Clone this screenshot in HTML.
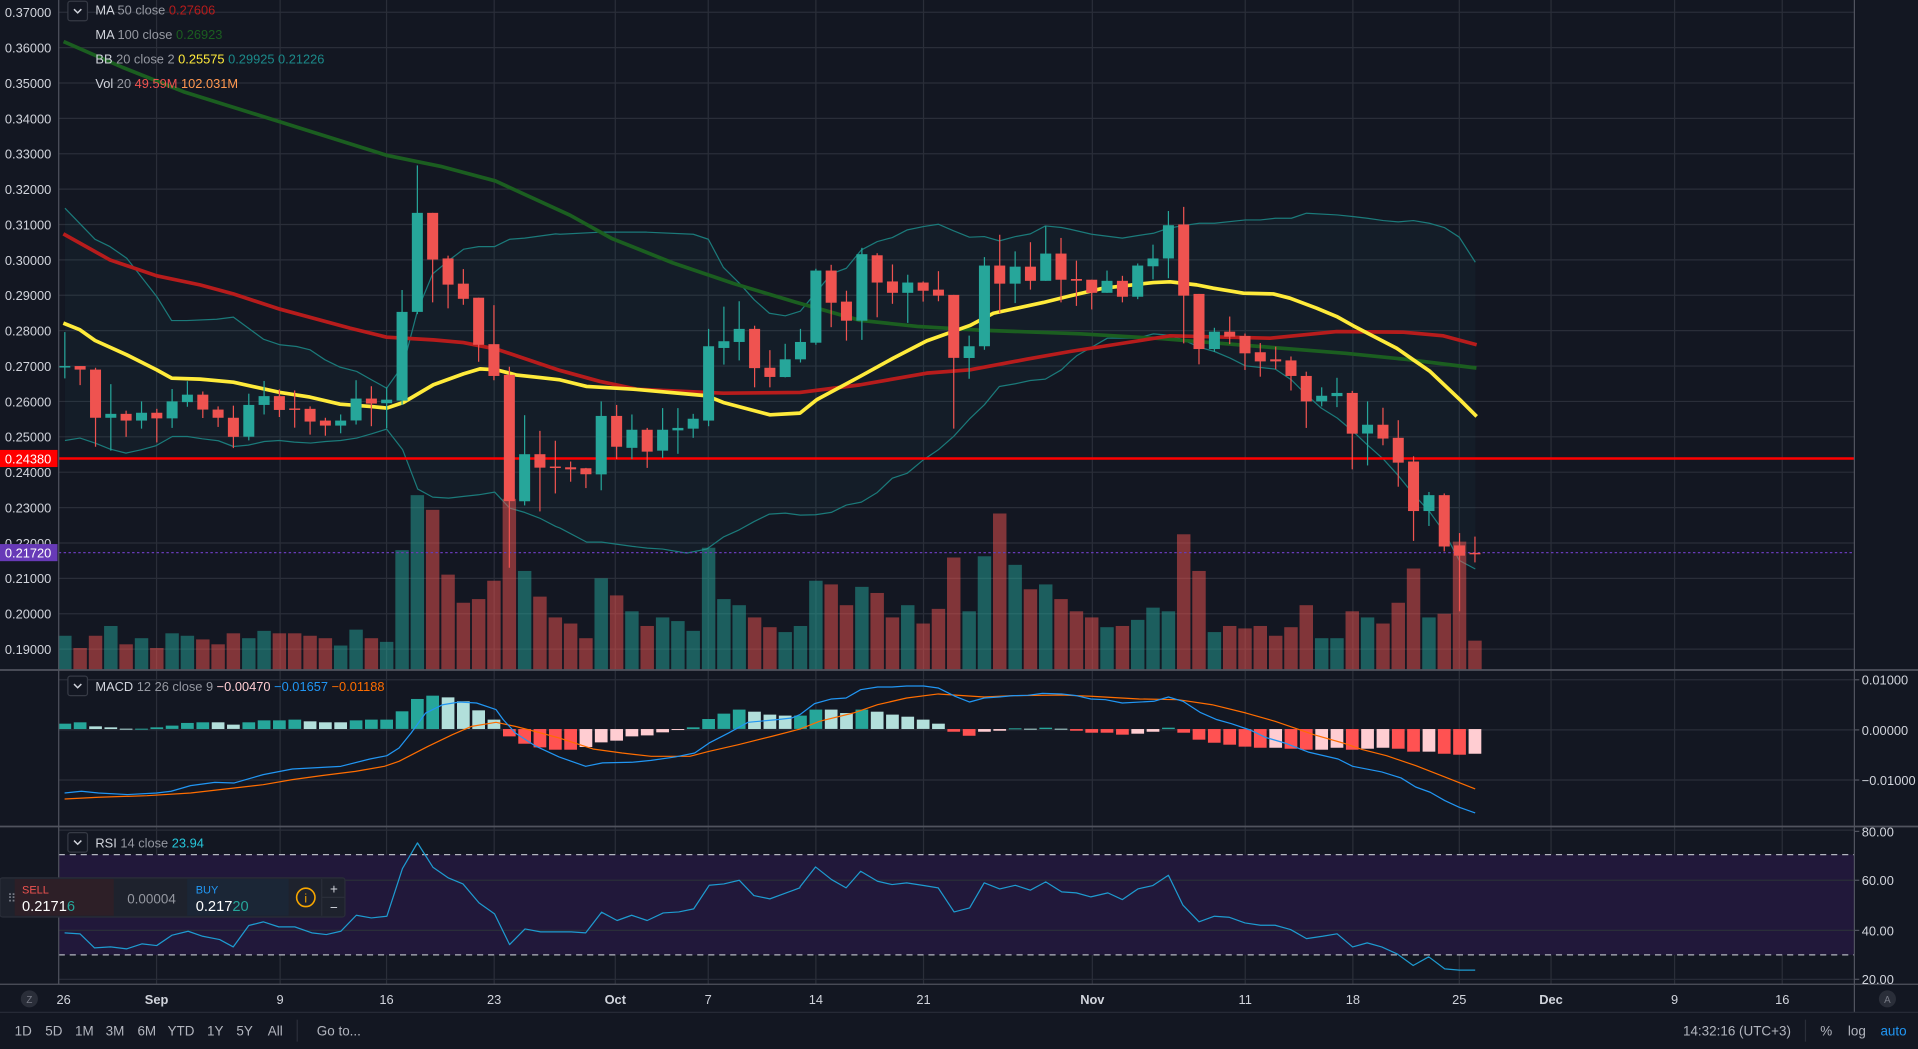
<!DOCTYPE html>
<html><head><meta charset="utf-8">
<style>
html,body{margin:0;padding:0;background:#131722;overflow:hidden}
svg{display:block}
text{font-family:"Liberation Sans",sans-serif}
</style></head>
<body>
<svg id="s" width="1918" height="1049" viewBox="0 0 1568 858" preserveAspectRatio="none" xmlns="http://www.w3.org/2000/svg"></svg>
<script>
const svg=document.getElementById('s');
let h='';
const R=1.2232;
function py(p){return 10+(0.37-p)*2894;}
function z3(x0,y0,pts){return pts.map(([x,y])=>[(x0+x/3)/R,(y0+y/3)/R]);}
function z6(x0,y0,pts){return pts.map(([x,y])=>[(x0+x/2.063)/R,(y0+y/3)/R]);}
function pl(pts,col,w,extra){return `<polyline points="${pts.map(p=>p[0].toFixed(1)+','+p[1].toFixed(1)).join(' ')}" fill="none" stroke="${col}" stroke-width="${w}" stroke-linejoin="round" ${extra||''}/>`;}
function cx(i){return 53+i*12.53;}
h+=`<rect width="1568" height="858" fill="#131722"/>`;
// grid
const vx=[128,229,316,404,503,579,667,755,893,1018,1106,1193,1268,1369,1457];
vx.forEach(x=>{h+=`<line x1="${x}" y1="0" x2="${x}" y2="805" stroke="#2a2e39" stroke-width="1"/>`;});
for(let k=0;k<=18;k++){const y=10+k*28.94;h+=`<line x1="48" y1="${y}" x2="1516" y2="${y}" stroke="#2a2e39"/>`;
 h+=`<text x="4" y="${y+4}" font-size="10.5" fill="#d1d4dc">${(0.37-k*0.01).toFixed(5)}</text>`;}
// RSI band
h+=`<rect x="48" y="699" width="1468" height="82" fill="#21183a"/>`;
[556,597,638].forEach(y=>{h+=`<line x1="48" y1="${y}" x2="1516" y2="${y}" stroke="#2a2e39"/>`;});
[679,720,761,801].forEach(y=>{h+=`<line x1="48" y1="${y}" x2="1516" y2="${y}" stroke="#2a2e39"/>`;});
h+=`<line x1="48" y1="699" x2="1516" y2="699" stroke="#b2b5be" stroke-dasharray="5,4"/>`;
h+=`<line x1="48" y1="781" x2="1516" y2="781" stroke="#b2b5be" stroke-dasharray="5,4"/>`;
// BB
const up=[].concat(
 z3(50,150,[[45,175],[135,268],[180,290],[230,325],[320,440],[365,512],[410,512],[500,508],[550,502],[640,568],[690,585],[740,590],[780,600],[825,630],[870,652],[920,665],[965,690],[1010,715],[1060,645],[1103,480],[1148,372],[1196,332],[1241,298],[1286,290],[1334,290],[1379,268],[1424,265],[1517,252]]),
 z3(560,150,[[0,253],[120,247],[260,247],[400,253],[445,268],[490,352],[538,400],[583,450],[628,490],[676,498],[721,484],[766,430],[814,372],[859,355],[904,300],[952,275],[997,263],[1042,240],[1090,230],[1135,223],[1181,243],[1228,262],[1273,260],[1318,273],[1366,260],[1411,252],[1456,228],[1504,233]]),
 z3(1070,150,[[0,238],[65,253],[157,265],[202,257],[250,250],[295,235],[340,227],[388,220],[433,220],[526,210],[571,210],[616,205],[664,205],[709,190],[802,195],[847,200],[892,205],[940,212],[985,216],[1030,212],[1078,220],[1123,233],[1168,262],[1216,337]]));
const lo=[].concat(
 z3(50,150,[[45,872],[90,865],[135,880],[180,898],[228,910],[273,900],[318,888],[367,860],[412,860],[457,867],[505,873],[550,890],[595,886],[643,875],[688,872],[733,877],[782,880],[827,875],[872,872],[920,865],[965,852],[1010,838],[1058,900],[1103,1018],[1148,1042],[1196,1045],[1241,1040],[1286,1035],[1334,1027],[1379,1075],[1424,1088],[1469,1105],[1517,1130]]),
 z3(560,150,[[0,1135],[80,1177],[125,1177],[217,1190],[262,1195],[308,1198],[380,1210],[440,1198],[490,1162],[538,1140],[583,1115],[628,1093],[676,1090],[721,1096],[766,1095],[814,1088],[859,1066],[904,1057],[952,1028],[997,985],[1042,970],[1090,930],[1135,900],[1181,860],[1228,808],[1273,765],[1318,710],[1366,702],[1411,692],[1456,688],[1504,660]]),
 z3(1070,150,[[0,635],[20,618],[112,565],[202,565],[250,552],[295,556],[340,570],[388,592],[433,605],[480,625],[526,648],[616,658],[664,690],[709,735],[754,775],[802,805],[847,843],[892,885],[940,928],[985,978],[1030,1033],[1078,1085],[1123,1148],[1168,1232],[1216,1258]]));
h+=`<polygon points="${up.concat(lo.slice().reverse()).map(p=>p[0].toFixed(1)+','+p[1].toFixed(1)).join(' ')}" fill="rgba(38,166,154,0.05)"/>`;
h+=pl(up,'#1b7a7a',1)+pl(lo,'#1b7a7a',1);
// volume
const C=[[.2699,.2700,.2796,.2665],[.2700,.2690,.2700,.2646],[.2690,.2554,.2695,.2472],[.2554,.2565,.2649,.2461],[.2565,.2546,.2574,.2500],[.2546,.2568,.2600,.2523],[.2568,.2552,.2579,.2484],[.2552,.2600,.2635,.2525],[.2598,.2619,.2657,.2585],[.2619,.2577,.2628,.2553],[.2577,.2554,.2586,.2528],[.2554,.2500,.2588,.2468],[.2500,.2590,.2622,.2490],[.2590,.2615,.2658,.2563],[.2615,.2576,.2634,.2556],[.2580,.2576,.2631,.2526],[.2579,.2543,.2586,.2506],[.2546,.2532,.2554,.2503],[.2532,.2546,.2563,.2510],[.2546,.2608,.2660,.2535],[.2608,.2594,.2643,.2530],[.2595,.2605,.2640,.2524],[.2602,.2853,.2915,.2590],[.2853,.3133,.3267,.2847],[.3133,.3001,.3133,.2880],[.3004,.2930,.3012,.2863],[.2933,.2890,.2974,.2873],[.2893,.2760,.2893,.2712],[.2762,.2672,.2872,.2660],[.2675,.2318,.2698,.2130],[.2318,.2451,.2561,.2306],[.2451,.2413,.2517,.2289],[.2416,.2412,.2489,.2340],[.2414,.2408,.2430,.2373],[.2411,.2394,.2412,.2355],[.2394,.2559,.2600,.2349],[.2559,.2472,.2590,.2437],[.2469,.2520,.2563,.2437],[.2520,.2458,.2525,.2412],[.2461,.2520,.2581,.2440],[.2518,.2525,.2581,.2452],[.2523,.2551,.2565,.2497],[.2546,.2756,.2805,.2530],[.2751,.2770,.2868,.2704],[.2768,.2805,.2883,.2716],[.2805,.2694,.2814,.2640],[.2695,.2669,.2745,.2640],[.2669,.2719,.2763,.2668],[.2719,.2768,.2805,.2710],[.2766,.2970,.2975,.2760],[.2970,.2879,.2986,.2810],[.2882,.2828,.2913,.2772],[.2828,.3016,.3034,.2774],[.3013,.2936,.3019,.2838],[.2939,.2907,.2987,.2876],[.2907,.2936,.2958,.2822],[.2936,.2913,.2939,.2882],[.2916,.2899,.2968,.2883],[.2901,.2723,.2901,.2523],[.2723,.2756,.2786,.2664],[.2756,.2984,.3008,.2746],[.2984,.2933,.3071,.2850],[.2933,.2981,.3024,.2878],[.2981,.2941,.3050,.2916],[.2941,.3018,.3095,.2941],[.3018,.2944,.3062,.2880],[.2946,.2941,.2998,.2870],[.2944,.2907,.2944,.2860],[.2907,.2941,.2970,.2907],[.2941,.2896,.2955,.2880],[.2896,.2984,.2990,.2889],[.2982,.3004,.3043,.2945],[.3004,.3098,.3138,.2948],[.3100,.2899,.3150,.2764],[.2904,.2748,.2904,.2705],[.2748,.2797,.2808,.2740],[.2797,.2783,.2840,.2762],[.2785,.2736,.2792,.2689],[.2739,.2713,.2765,.2670],[.2719,.2713,.2755,.2691],[.2716,.2672,.2727,.2631],[.2672,.2600,.2684,.2525],[.2600,.2616,.2640,.2586],[.2615,.2624,.2667,.2584],[.2624,.2509,.2630,.2408],[.2509,.2534,.2600,.2419],[.2534,.2495,.2582,.2476],[.2497,.2427,.2547,.2359],[.2430,.2290,.2445,.2206],[.2290,.2335,.2344,.2248],[.2335,.2190,.2340,.2176],[.2193,.2164,.2228,.2007],[.2172,.2170,.2218,.2145]];
const V=[520,530,520,512,527,522,530,518,520,523,527,518,522,516,518,518,520,522,528,515,522,525,450,405,417,470,493,490,475,408,467,488,505,510,522,473,487,500,512,505,508,516,448,490,495,505,513,517,512,475,478,495,480,485,505,495,510,498,456,500,455,420,462,482,478,490,500,505,513,512,507,497,500,437,467,517,512,514,512,520,513,495,522,522,500,505,510,493,465,505,502,443,524];
C.forEach((c,i)=>{const g=c[1]>=c[0];h+=`<rect x="${(cx(i)-5.5).toFixed(1)}" y="${V[i]}" width="11" height="${548-V[i]}" fill="${g?'rgba(38,166,154,0.5)':'rgba(239,83,80,0.5)'}"/>`;});
// MA lines
const ma100=[[52,34],[100,55],[150,75],[230,100],[316,127],[360,136],[405,148],[466,176],[500,195],[550,215],[600,232],[650,247],[703,262],[750,267],[800,270],[883,273],[950,277],[1000,281],[1050,285],[1100,289],[1150,294],[1207,301]];
h+=pl(ma100,'#1b5e20',3);
const ma50=[[51.8,191.3],[89.9,212.6],[128.1,225.6],[163.5,233],[190.7,240.4],[228.9,252.9],[286.1,268.4],[316.1,275.8],[354.3,278],[378.8,280.2],[406,285.6],[457.8,303],[490.5,312],[520.5,318.3],[591.3,321.6],[654,321],[703,314.8],[757.6,305.2],[793,302.5],[839.3,293.8],[874.8,287.5],[956.5,274.7],[1038.3,276.6],[1092.8,271.2],[1147.3,271.7],[1180,274.7],[1207.2,282]];
h+=pl(ma50,'#b71c1c',3);
const bb=[].concat(z3(50,150,[[40,520],[90,540],[135,572],[230,615],[320,660],[365,685],[450,688],[550,697],[690,728],[780,742],[870,763],[965,770],[1010,775],[1060,758],[1150,705],[1240,672],[1290,657],[1340,660],[1400,676],[1470,683]]),
 z3(560,150,[[0,690],[80,710],[220,718],[440,738],[490,758],[630,795],[720,790],[770,750],[900,680],[1000,625],[1100,573],[1230,527],[1300,490],[1450,458]]),
 z3(1070,150,[[0,438],[100,415],[250,398],[300,396],[380,405],[430,415],[520,430],[610,432],[660,445],[740,475],[800,500],[850,528],[980,595],[1030,630],[1080,665],[1170,750],[1220,800]]));
h+=pl(bb,'#ffeb3b',3);
// lines
h+=`<line x1="48" y1="375" x2="1516" y2="375" stroke="#ff0000" stroke-width="2"/>`;
h+=`<line x1="48" y1="452" x2="1516" y2="452" stroke="#673ab7" stroke-width="1" stroke-dasharray="2,2"/>`;
// candles
C.forEach((c,i)=>{const g=c[1]>=c[0];const col=g?'#26a69a':'#ef5350';const x=cx(i);
 const t=py(Math.max(c[0],c[1])),b=py(Math.min(c[0],c[1]));
 h+=`<line x1="${x.toFixed(1)}" y1="${py(c[2]).toFixed(1)}" x2="${x.toFixed(1)}" y2="${py(c[3]).toFixed(1)}" stroke="${col}" stroke-width="1"/>`;
 h+=`<rect x="${(x-4.5).toFixed(1)}" y="${t.toFixed(1)}" width="9" height="${Math.max(1.2,b-t).toFixed(1)}" fill="${col}"/>`;});
// MACD hist
const H=[[162,'g'],[158,'g'],[170,'l'],[173,'l'],[177,'l'],[177,'g'],[173,'g'],[168,'g'],[160,'g'],[158,'g'],[158,'l'],[165,'l'],[158,'g'],[152,'g'],[152,'g'],[150,'g'],[155,'l'],[158,'l'],[158,'l'],[152,'g'],[150,'g'],[150,'g'],[125,'g'],[88,'g'],[78,'g'],[83,'l'],[95,'l'],[122,'l'],[150,'l'],[200,'r'],[222,'r'],[233,'r'],[240,'r'],[240,'r'],[232,'p'],[218,'p'],[213,'p'],[200,'p'],[197,'p'],[188,'p'],[180,'p'],[173,'g'],[148,'g'],[132,'g'],[120,'g'],[126,'l'],[135,'l'],[138,'l'],[138,'g'],
[120,'g'],[120,'l'],[130,'l'],[120,'g'],[126,'l'],[135,'l'],[141,'l'],[150,'l'],[162,'l'],[186,'r'],[198,'r'],[186,'p'],[183,'p'],[176,'g'],[177,'l'],[174,'g'],[177,'l'],[183,'r'],[189,'r'],[189,'r'],[195,'r'],[192,'p'],[186,'p'],[174,'g'],[189,'r'],[210,'r'],[219,'r'],[225,'r'],[231,'r'],[234,'r'],[234,'p'],[237,'r'],[240,'r'],[240,'p'],[234,'p'],[240,'r'],[237,'p'],[234,'p'],[237,'r'],[246,'r'],[246,'p'],[252,'r'],[255,'r'],[252,'p']];
const HC={g:'#26a69a',l:'#b2dfdb',r:'#ff5252',p:'#ffcdd2'};
const my=zy=>(670+zy/3)/R;const base=my(178);
H.forEach((v,i)=>{const y=my(v[0]);const t=Math.min(y,base),b=Math.max(y,base);h+=`<rect x="${(cx(i)-5.2).toFixed(1)}" y="${t.toFixed(1)}" width="10.4" height="${Math.max(0.8,b-t).toFixed(1)}" fill="${HC[v[1]]}"/>`;});
const mb=[].concat(z6(50,670,[[30,370],[65,365],[100,370],[160,375],[220,370],[250,365],[290,348],[340,338],[380,340],[440,315],[500,298],[600,290],[660,268],[695,258],[720,235],[745,190],[775,130],[810,105],[845,97],[880,100],[920,120],[935,150],[960,190],[1000,228],[1050,262],[1105,290],[1140,280],[1200,278],[1240,272],[1290,262],[1330,250],[1360,220],[1400,190],[1440,158],[1500,150],[1530,145]]),
 z6(800,670,[[0,135],[30,102],[65,88],[95,85],[125,60],[160,52],[190,52],[220,49],[255,49],[285,55],[320,80],[350,97],[380,85],[410,82],[440,78],[470,77],[500,71],[540,73],[570,78],[600,88],[630,90],[665,100],[730,95],[760,82],[790,95],[825,128],[860,150],[890,162],[930,182],[960,203],[1000,220],[1050,248],[1110,268],[1140,290],[1200,307],[1240,325],[1270,352],[1300,368],[1330,393],[1360,413],[1393,430]]));
const ms=[].concat(z6(50,670,[[30,388],[100,383],[200,378],[290,370],[380,355],[440,345],[500,330],[560,318],[630,305],[690,290],[720,275],[780,230],[830,195],[870,170],[920,158],[960,170],[1000,185],[1050,205],[1120,238],[1180,250],[1240,260],[1320,260],[1360,245],[1420,225],[1490,200]]),
 z6(800,670,[[0,178],[40,155],[110,130],[160,105],[220,85],[285,73],[380,82],[440,78],[540,76],[600,80],[700,88],[780,90],[850,105],[920,130],[980,155],[1020,175],[1060,195],[1120,220],[1160,240],[1210,258],[1270,288],[1330,322],[1393,358]]));
h+=pl(ms,'#ff6d00',1)+pl(mb,'#2196f3',1);
// RSI
const rs=[].concat(z6(50,670,[[30,790],[62,793],[92,835],[125,832],[158,838],[190,823],[220,828],[252,797],[285,785],[315,800],[350,810],[378,832],[410,768],[440,757],[472,772],[505,772],[540,790],[570,795],[600,785],[632,737],[663,745],[695,740],[727,597],[758,520],[790,593],[822,625],[852,643],[885,700],[917,733],[948,825],[980,778],[1012,787],[1075,787],[1105,790],[1138,728],[1170,753],[1200,737],[1232,753],[1265,730],[1297,727],[1328,718],[1360,647],[1390,643],[1422,632],[1452,678],[1485,688],[1515,672],[1547,655]]),
 z6(800,670,[[0,652],[32,592],[65,630],[95,655],[125,605],[160,635],[190,645],[220,640],[255,648],[285,655],[318,727],[350,715],[380,640],[412,658],[444,647],[475,662],[507,637],[540,667],[570,670],[600,682],[635,670],[665,690],[697,658],[728,648],[760,617],[790,707],[823,757],[855,740],[885,743],[918,760],[950,767],[980,767],[1012,780],[1045,807],[1078,800],[1108,793],[1140,832],[1170,820],[1200,832],[1232,853],[1265,888],[1297,862],[1330,898],[1360,902],[1393,902]]));
h+=pl(rs,'#1e9bd0',1);
// separators & axes
h+=`<line x1="48" y1="0" x2="48" y2="805" stroke="#50535e"/>`;
h+=`<line x1="1516" y1="0" x2="1516" y2="828" stroke="#50535e"/>`;
h+=`<line x1="0" y1="548" x2="1568" y2="548" stroke="#50535e" stroke-width="1.5"/>`;
h+=`<line x1="0" y1="676" x2="1568" y2="676" stroke="#50535e" stroke-width="1.5"/>`;
h+=`<line x1="0" y1="805" x2="1568" y2="805" stroke="#50535e"/>`;
h+=`<line x1="0" y1="828" x2="1568" y2="828" stroke="#2a2e39"/>`;
h+=`<rect x="0" y="368" width="47" height="14" fill="#ff0000"/><text x="4" y="379" font-size="10.5" fill="#fff">0.24380</text>`;
h+=`<rect x="0" y="445" width="47" height="14" fill="#673ab7"/><text x="4" y="456" font-size="10.5" fill="#fff">0.21720</text>`;
[[556,'0.01000'],[597,'0.00000'],[638,'−0.01000'],[680,'80.00'],[720,'60.00'],[761,'40.00'],[801,'20.00']].forEach(([y,t])=>{h+=`<line x1="1516" y1="${y}" x2="1520" y2="${y}" stroke="#50535e"/><text x="1522" y="${y+4}" font-size="10.5" fill="#d1d4dc">${t}</text>`;});
// time labels
[[52,'26',0],[128,'Sep',1],[229,'9',0],[316,'16',0],[404,'23',0],[503,'Oct',1],[579,'7',0],[667,'14',0],[755,'21',0],[893,'Nov',1],[1018,'11',0],[1106,'18',0],[1193,'25',0],[1268,'Dec',1],[1369,'9',0],[1457,'16',0]].forEach(([x,t,b])=>{h+=`<text x="${x}" y="821" font-size="10.5" text-anchor="middle" fill="#d1d4dc" ${b?'font-weight="bold"':''}>${t}</text>`;});
h+=`<circle cx="24" cy="817" r="7" fill="#2a2e39"/><text x="24" y="820.5" font-size="8" text-anchor="middle" fill="#787b86">Z</text>`;
h+=`<circle cx="1543" cy="817" r="7" fill="#2a2e39"/><text x="1543" y="820.5" font-size="8" text-anchor="middle" fill="#787b86">A</text>`;
// toolbar
[[19,'1D'],[44,'5D'],[69,'1M'],[94,'3M'],[120,'6M'],[148,'YTD'],[176,'1Y'],[200,'5Y'],[225,'All']].forEach(([x,t])=>{h+=`<text x="${x}" y="847" font-size="11" text-anchor="middle" fill="#b2b5be">${t}</text>`;});
h+=`<line x1="243" y1="834" x2="243" y2="852" stroke="#2a2e39"/><text x="259" y="847" font-size="11" fill="#b2b5be">Go to...</text>`;
h+=`<text x="1420" y="847" font-size="11" text-anchor="middle" fill="#b2b5be">14:32:16 (UTC+3)</text><line x1="1476" y1="834" x2="1476" y2="852" stroke="#2a2e39"/>`;
h+=`<text x="1493" y="847" font-size="11" text-anchor="middle" fill="#b2b5be">%</text><text x="1518" y="847" font-size="11" text-anchor="middle" fill="#b2b5be">log</text><text x="1548" y="847" font-size="11" text-anchor="middle" fill="#2196f3">auto</text>`;
// legends
function chev(y){return `<rect x="55.5" y="${y}" width="16" height="16" rx="2" fill="#131722" stroke="#363a45"/><path d="M60.5 ${y+6.5} l3 3 l3 -3" fill="none" stroke="#d1d4dc" stroke-width="1.2"/>`;}
h+=chev(1);
function leg(y,parts){let s=`<text x="78" y="${y}" font-size="10.5">`;parts.forEach(([t,c])=>{s+=`<tspan fill="${c}">${t}</tspan>`;});return s+'</text>';}
h+=leg(12,[['MA ','#d1d4dc'],['50 close  ','#9598a1'],['0.27606','#b71c1c']]);
h+=leg(32,[['MA ','#d1d4dc'],['100 close  ','#9598a1'],['0.26923','#1b5e20']]);
h+=leg(52,[['BB ','#d1d4dc'],['20 close 2  ','#9598a1'],['0.25575 ','#ffeb3b'],['0.29925 0.21226','#1b8a8a']]);
h+=leg(72,[['Vol ','#d1d4dc'],['20  ','#9598a1'],['49.59M ','#ef5350'],['102.031M','#ff9850']]);
h+=chev(553);
h+=leg(565,[['MACD ','#d1d4dc'],['12 26 close 9  ','#9598a1'],['−0.00470 ','#ffcdd2'],['−0.01657 ','#2196f3'],['−0.01188','#ff6d00']]);
h+=chev(681);
h+=leg(693,[['RSI ','#d1d4dc'],['14 close  ','#9598a1'],['23.94','#26c6da']]);
// trade widget
h+=`<rect x="0" y="718" width="282" height="32" rx="2" fill="#1e222d" stroke="#2a2e39"/>`;
h+=`<rect x="12" y="719" width="81" height="30" fill="#2d1f27"/><rect x="153" y="719" width="83" height="30" fill="#1b2636"/>`;
h+=`<text x="6" y="738" font-size="10" fill="#787b86">⠿</text>`;
h+=`<text x="18" y="731" font-size="9" fill="#ef5350">SELL</text><text x="18" y="745" font-size="12" fill="#fff">0.2171<tspan fill="#26a69a">6</tspan></text>`;
h+=`<text x="104" y="739" font-size="11" fill="#9598a1">0.00004</text>`;
h+=`<text x="160" y="731" font-size="9" fill="#2196f3">BUY</text><text x="160" y="745" font-size="12" fill="#fff">0.217<tspan fill="#26a69a">20</tspan></text>`;
h+=`<circle cx="250" cy="734" r="7.5" fill="none" stroke="#f7a600" stroke-width="1.3"/><text x="250" y="738" font-size="10" text-anchor="middle" fill="#f7a600">i</text>`;
h+=`<line x1="263" y1="719" x2="263" y2="749" stroke="#2a2e39"/><line x1="263" y1="734" x2="282" y2="734" stroke="#2a2e39"/>`;
h+=`<text x="273" y="731" font-size="11" text-anchor="middle" fill="#d1d4dc">+</text><text x="273" y="746" font-size="11" text-anchor="middle" fill="#d1d4dc">−</text>`;
svg.innerHTML=h;
</script>
</body></html>
